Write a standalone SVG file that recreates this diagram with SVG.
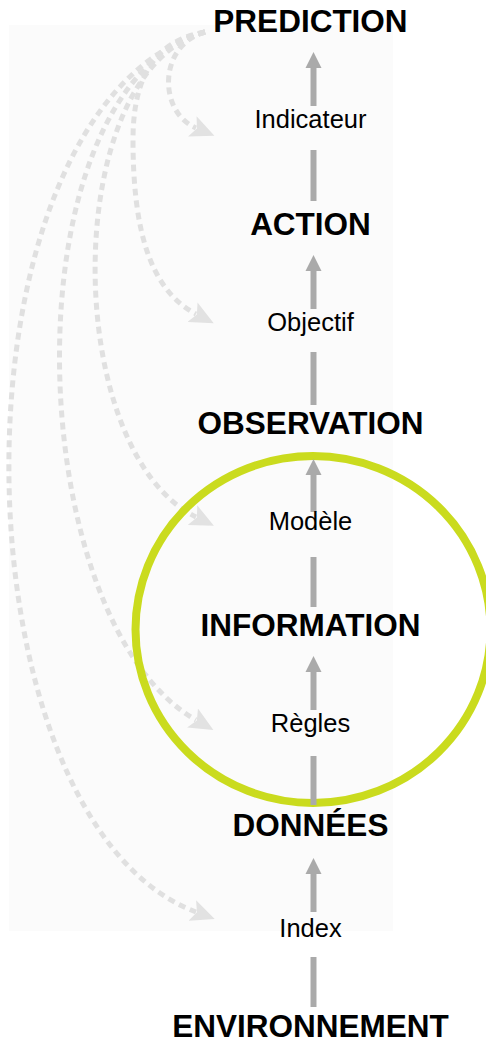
<svg xmlns="http://www.w3.org/2000/svg" width="486" height="1043" viewBox="0 0 486 1043">
  <defs>
    <style>
      .heading { font-family: "Liberation Sans", Arial, sans-serif; font-weight: bold; font-size: 31.5px; fill: #000; text-anchor: middle; }
      .label { font-family: "Liberation Sans", Arial, sans-serif; font-size: 25.5px; fill: #000; text-anchor: middle; }
      .shaft { stroke: #aaaaaa; stroke-width: 6; fill: none; }
      .head { fill: #aaaaaa; }
      .loop { stroke: #e0e0e0; stroke-width: 5; fill: none; stroke-dasharray: 7 5; marker-end: url(#loopHead); }
    </style>
    <marker id="loopHead" markerUnits="userSpaceOnUse" markerWidth="24" markerHeight="22" refX="4" refY="11" orient="auto">
      <path d="M0,0 L24,11 L0,22 L5,11 z" fill="#e2e2e2"/>
    </marker>
  </defs>

  <!-- light panel behind the chain -->
  <rect x="9" y="25" width="384" height="906" fill="#fbfbfb"/>

  <g id="connectors">
    <!-- feedback loops from the top level back to each transition -->
    <g id="feedback-loops">
      <path class="loop" d="M205,32 C158,45 158,112 196,128"/>
      <path class="loop" d="M205,32 C160,40 133,70 133,140 C133,230 150,290 196,314"/>
      <path class="loop" d="M205,32 C60,70 60,450 196,517"/>
      <path class="loop" d="M205,32 C5,90 20,620 196,720"/>
      <path class="loop" d="M205,32 C-60,110 -50,820 196,912"/>
    </g>
  </g>

  <!-- highlight ring around the information level -->
  <g id="focus-ring">
    <ellipse cx="313" cy="629.5" rx="177.5" ry="173.5" fill="none" stroke="#cadb1e" stroke-width="8"/>
  </g>

  <g id="chain-arrows">
    <!-- Environnement -> Données -->
    <line class="shaft" x1="313.5" y1="1007" x2="313.5" y2="957"/>
    <line class="shaft" x1="313.5" y1="912" x2="313.5" y2="873"/>
    <polygon class="head" points="313.5,858 305.5,874 321.5,874"/>
    <!-- Données -> Information -->
    <line class="shaft" x1="313.5" y1="805" x2="313.5" y2="756"/>
    <line class="shaft" x1="313.5" y1="710" x2="313.5" y2="671"/>
    <polygon class="head" points="313.5,656 305.5,672 321.5,672"/>
    <!-- Information -> Observation -->
    <line class="shaft" x1="313.5" y1="607" x2="313.5" y2="557"/>
    <line class="shaft" x1="313.5" y1="512" x2="313.5" y2="474"/>
    <polygon class="head" points="313.5,459 305.5,475 321.5,475"/>
    <!-- Observation -> Action -->
    <line class="shaft" x1="313.5" y1="405" x2="313.5" y2="352"/>
    <line class="shaft" x1="313.5" y1="309" x2="313.5" y2="270"/>
    <polygon class="head" points="313.5,255 305.5,271 321.5,271"/>
    <!-- Action -> Prédiction -->
    <line class="shaft" x1="313.5" y1="201" x2="313.5" y2="150"/>
    <line class="shaft" x1="313.5" y1="106" x2="313.5" y2="67"/>
    <polygon class="head" points="313.5,52 305.5,68 321.5,68"/>
  </g>

  <g id="prediction"><text class="heading" x="310.5" y="32">PREDICTION</text></g>
  <g id="indicateur"><text class="label" x="310.5" y="128">Indicateur</text></g>
  <g id="action"><text class="heading" x="310.5" y="235">ACTION</text></g>
  <g id="objectif"><text class="label" x="310.5" y="331">Objectif</text></g>
  <g id="observation"><text class="heading" x="310.5" y="434">OBSERVATION</text></g>
  <g id="modele"><text class="label" x="310.5" y="530">Modèle</text></g>
  <g id="information"><text class="heading" x="310.5" y="636">INFORMATION</text></g>
  <g id="regles"><text class="label" x="310.5" y="732">Règles</text></g>
  <g id="donnees"><text class="heading" x="310.5" y="836">DONNÉES</text></g>
  <g id="index"><text class="label" x="310.5" y="937">Index</text></g>
  <g id="environnement"><text class="heading" x="310.5" y="1037">ENVIRONNEMENT</text></g>
</svg>
